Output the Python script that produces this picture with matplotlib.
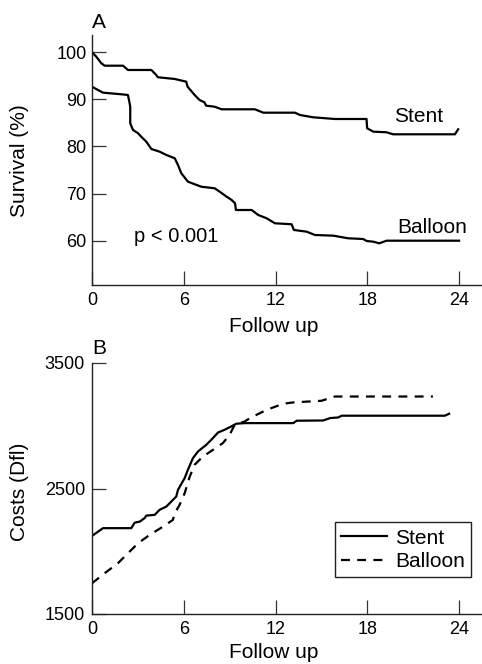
import matplotlib
matplotlib.use("Agg")
import matplotlib.pyplot as plt

plt.rcParams['font.family'] = ['Liberation Sans', 'DejaVu Sans']

# --- パネルA: 生存率 ---
stent_months = [0.0, 0.28, 0.61, 0.83, 2.03, 2.35, 3.88, 4.2, 4.31, 5.41, 6.16, 6.25,
                6.71, 7.03, 7.35, 7.46, 8.0, 8.48, 10.65, 11.2, 13.27, 13.6, 14.46,
                15.88, 17.95, 17.99, 18.39, 19.26, 19.69, 23.73, 23.94]
stent_surv = [100.0, 99.07, 97.66, 97.15, 97.15, 96.24, 96.24, 95.18, 94.69, 94.33, 93.76,
              92.69, 90.93, 89.87, 89.38, 88.66, 88.45, 87.89, 87.89, 87.17, 87.17, 86.68,
              86.19, 85.83, 85.83, 83.86, 83.14, 83.01, 82.58, 82.58, 83.64]

balloon_months = [0.0, 0.39, 0.72, 1.92, 2.35, 2.46, 2.5, 2.5, 2.5, 2.68, 3.01, 3.22, 3.55,
                  3.88, 4.42, 4.86, 5.41, 5.62, 5.84, 6.27, 7.14, 8.02, 8.35, 8.8, 9.13,
                  9.35, 9.41, 10.44, 10.87, 11.42, 11.96, 13.05, 13.2, 14.03, 14.58, 15.77,
                  16.75, 17.73, 17.95, 18.39, 18.78, 19.26, 24.0]
balloon_surv = [92.69, 91.99, 91.42, 91.08, 90.93, 89.17, 88.45, 86.32, 84.92, 83.5, 82.8,
                82.07, 81.01, 79.46, 78.89, 78.19, 77.49, 76.07, 74.3, 72.52, 71.45, 71.11,
                70.39, 69.33, 68.63, 67.93, 66.5, 66.5, 65.44, 64.74, 63.68, 63.47, 62.26,
                61.9, 61.19, 61.05, 60.49, 60.34, 59.92, 59.77, 59.43, 59.98, 59.98]

surv_ticks = [60, 70, 80, 90, 100]

# --- パネルB: コスト ---
stent_cost_months = [0.0, 0.72, 2.57, 2.79, 3.12, 3.44, 3.55, 4.1, 4.42, 4.86, 5.51, 5.62,
                     6.06, 6.27, 6.6, 6.93, 7.47, 7.8, 8.24, 8.67, 9.1, 9.43, 9.98, 13.16,
                     13.38, 15.12, 15.56, 16.1, 16.32, 23.07, 23.35]
stent_cost = [2122, 2184, 2184, 2228, 2236, 2264, 2284, 2290, 2330, 2356, 2436, 2489, 2583,
              2649, 2742, 2795, 2848, 2888, 2946, 2968, 2994, 3016, 3021, 3021, 3040, 3042,
              3061, 3066, 3080, 3080, 3096]

balloon_cost_months = [0.0, 0.83, 1.7, 2.35, 3.01, 3.77, 4.64, 5.29, 5.41, 5.73, 6.06, 6.39,
                       6.71, 7.25, 7.91, 8.56, 9.0, 9.33, 9.98, 10.33, 11.42, 12.5, 13.16,
                       15.01, 15.88, 22.29]
balloon_cost = [1745, 1825, 1905, 1984, 2064, 2130, 2196, 2250, 2303, 2370, 2463, 2595, 2689,
                2755, 2808, 2862, 2928, 3008, 3034, 3061, 3127, 3175, 3186, 3199, 3233, 3233]

cost_ticks = [1500, 2500, 3500]
month_ticks = [0, 6, 12, 18, 24]

W, H = 482, 664
fig = plt.figure(figsize=(W / 100, H / 100), dpi=100)

def px_axes(left, top, right, bottom):
    return fig.add_axes([left / W, 1 - bottom / H, (right - left) / W, (bottom - top) / H])

def style_axes(ax):
    for side in ['top', 'right']:
        ax.spines[side].set_visible(False)
    for side in ['left', 'bottom']:
        ax.spines[side].set_linewidth(1.0)
        ax.spines[side].set_color('#222222')
    ax.tick_params(direction='in', length=10, width=0.9, color='#333333', labelsize=13)
    ax.tick_params(axis='x', pad=5)
    ax.tick_params(axis='y', pad=4)
    ax.set_xticks(month_ticks)

# パネルA
ax1 = px_axes(92, 35, 482, 285)
ax1.plot(stent_months, stent_surv, color='black', lw=1.6)
ax1.plot(balloon_months, balloon_surv, color='black', lw=1.6)
ax1.set_xlim(0, 25.5)
ax1.set_ylim(50.57, 103.67)
ax1.set_yticks(surv_ticks)
style_axes(ax1)
ax1.text(19.74, 86.3, 'Stent', fontsize=15, va='center', ha='left')
ax1.text(19.98, 62.75, 'Balloon', fontsize=15, va='center', ha='left')
ax1.text(2.75, 60.8, 'p < 0.001', fontsize=14.5, va='center', ha='left')

# パネルB
ax2 = px_axes(92, 363, 482, 614)
ax2.plot(stent_cost_months, stent_cost, color='black', lw=1.6, label='Stent')
ax2.plot(balloon_cost_months, balloon_cost, color='black', lw=1.6,
         linestyle=(0, (4, 3.3)), label='Balloon')
ax2.set_xlim(0, 25.5)
ax2.set_ylim(1500, 3500)
ax2.set_yticks(cost_ticks)
style_axes(ax2)
ax2.tick_params(axis='y', pad=5)
leg = ax2.legend(loc='lower right', bbox_to_anchor=(0.972, 0.147), borderaxespad=0,
                 fontsize=15, fancybox=False, edgecolor='#222222', framealpha=1,
                 handlelength=2.2, handletextpad=0.4, labelspacing=0.2, borderpad=0.3)
leg.get_frame().set_linewidth(1.0)

# ラベル類
fig.text(92 / W, 1 - 22.5 / H, 'A', fontsize=15, ha='left', va='center')
fig.text(92 / W, 1 - 349 / H, 'B', fontsize=15, ha='left', va='center')
fig.text(20 / W, 1 - 161 / H, 'Survival (%)', fontsize=15, rotation=90, ha='center', va='center')
fig.text(20 / W, 1 - 492 / H, 'Costs (Dfl)', fontsize=15, rotation=90, ha='center', va='center')
fig.text(274 / W, 1 - 327 / H, 'Follow up', fontsize=15, ha='center', va='center')
fig.text(274 / W, 1 - 653 / H, 'Follow up', fontsize=15, ha='center', va='center')

fig.savefig('out.png', dpi=100)
